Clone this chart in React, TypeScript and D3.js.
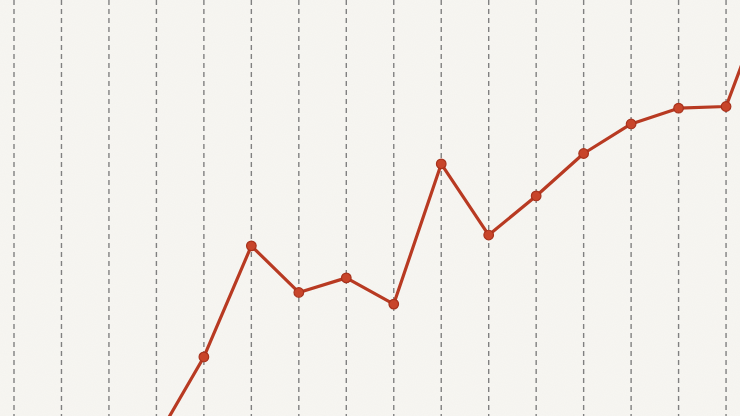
import React, { useEffect, useRef } from 'react';
import * as d3 from 'd3';

// category slots (one dashed guide per slot), the last one sits past the right edge
const categories = ['1', '2', '3', '4', '5', '6', '7', '8', '9', '10', '11', '12', '13', '14', '15', '16', '17'];
// series values; the first slots have no data, index 3 and 16 run off the frame
const values: (number | null)[] = [null, null, null, -5.5, 14.2, 40.9, 29.7, 33.2, 26.9, 60.6, 43.5, 52.9, 63.1, 70.2, 74.0, 74.4, 104.8];

const W = 740;
const H = 416;

const App: React.FC = () => {
    const svgRef = useRef<SVGSVGElement>(null);

    useEffect(() => {
        if (!svgRef.current) return;
        document.body.style.margin = '0';

        const svg = d3.select(svgRef.current);
        svg.selectAll('*').remove();

        const xScale = d3.scalePoint<string>()
            .domain(categories)
            .range([14, 14 + 47.47 * (categories.length - 1)]);

        const yScale = d3.scaleLinear()
            .domain([0, 100])
            .range([H, 0]);

        // paper texture
        const defs = svg.append('defs');
        const filter = defs.append('filter').attr('id', 'paper');
        filter.append('feTurbulence')
            .attr('type', 'fractalNoise')
            .attr('baseFrequency', 0.9)
            .attr('numOctaves', 2)
            .attr('seed', 3);
        filter.append('feColorMatrix')
            .attr('type', 'matrix')
            .attr('values', '0 0 0 0 0.55  0 0 0 0 0.52  0 0 0 0 0.45  0 0 0 0.06 0');

        svg.append('rect')
            .attr('width', W)
            .attr('height', H)
            .attr('fill', '#f7f6f2');
        svg.append('rect')
            .attr('width', W)
            .attr('height', H)
            .attr('filter', 'url(#paper)');

        // dashed guides
        svg.append('g')
            .selectAll('line')
            .data(categories)
            .join('line')
            .attr('x1', d => xScale(d)!)
            .attr('x2', d => xScale(d)!)
            .attr('y1', 0)
            .attr('y2', H)
            .attr('stroke', '#808080')
            .attr('stroke-width', 1.4)
            .attr('stroke-dasharray', '5 4');

        const pts = categories
            .map((c, i) => ({ c, v: values[i] }))
            .filter(d => d.v !== null) as { c: string; v: number }[];

        const line = d3.line<{ c: string; v: number }>()
            .x(d => xScale(d.c)!)
            .y(d => yScale(d.v));

        svg.append('path')
            .datum(pts)
            .attr('fill', 'none')
            .attr('stroke', '#b83a22')
            .attr('stroke-width', 3.2)
            .attr('stroke-linejoin', 'round')
            .attr('d', line);

        svg.append('g')
            .selectAll('circle')
            .data(pts)
            .join('circle')
            .attr('cx', d => xScale(d.c)!)
            .attr('cy', d => yScale(d.v))
            .attr('r', 4.8)
            .attr('fill', '#c8452a')
            .attr('stroke', '#a8321c')
            .attr('stroke-width', 1.2);
    }, []);

    return (
        <svg
            ref={svgRef}
            width={W}
            height={H}
            style={{ position: 'absolute', left: 0, top: 0, display: 'block' }}
        />
    );
};

export default App;
